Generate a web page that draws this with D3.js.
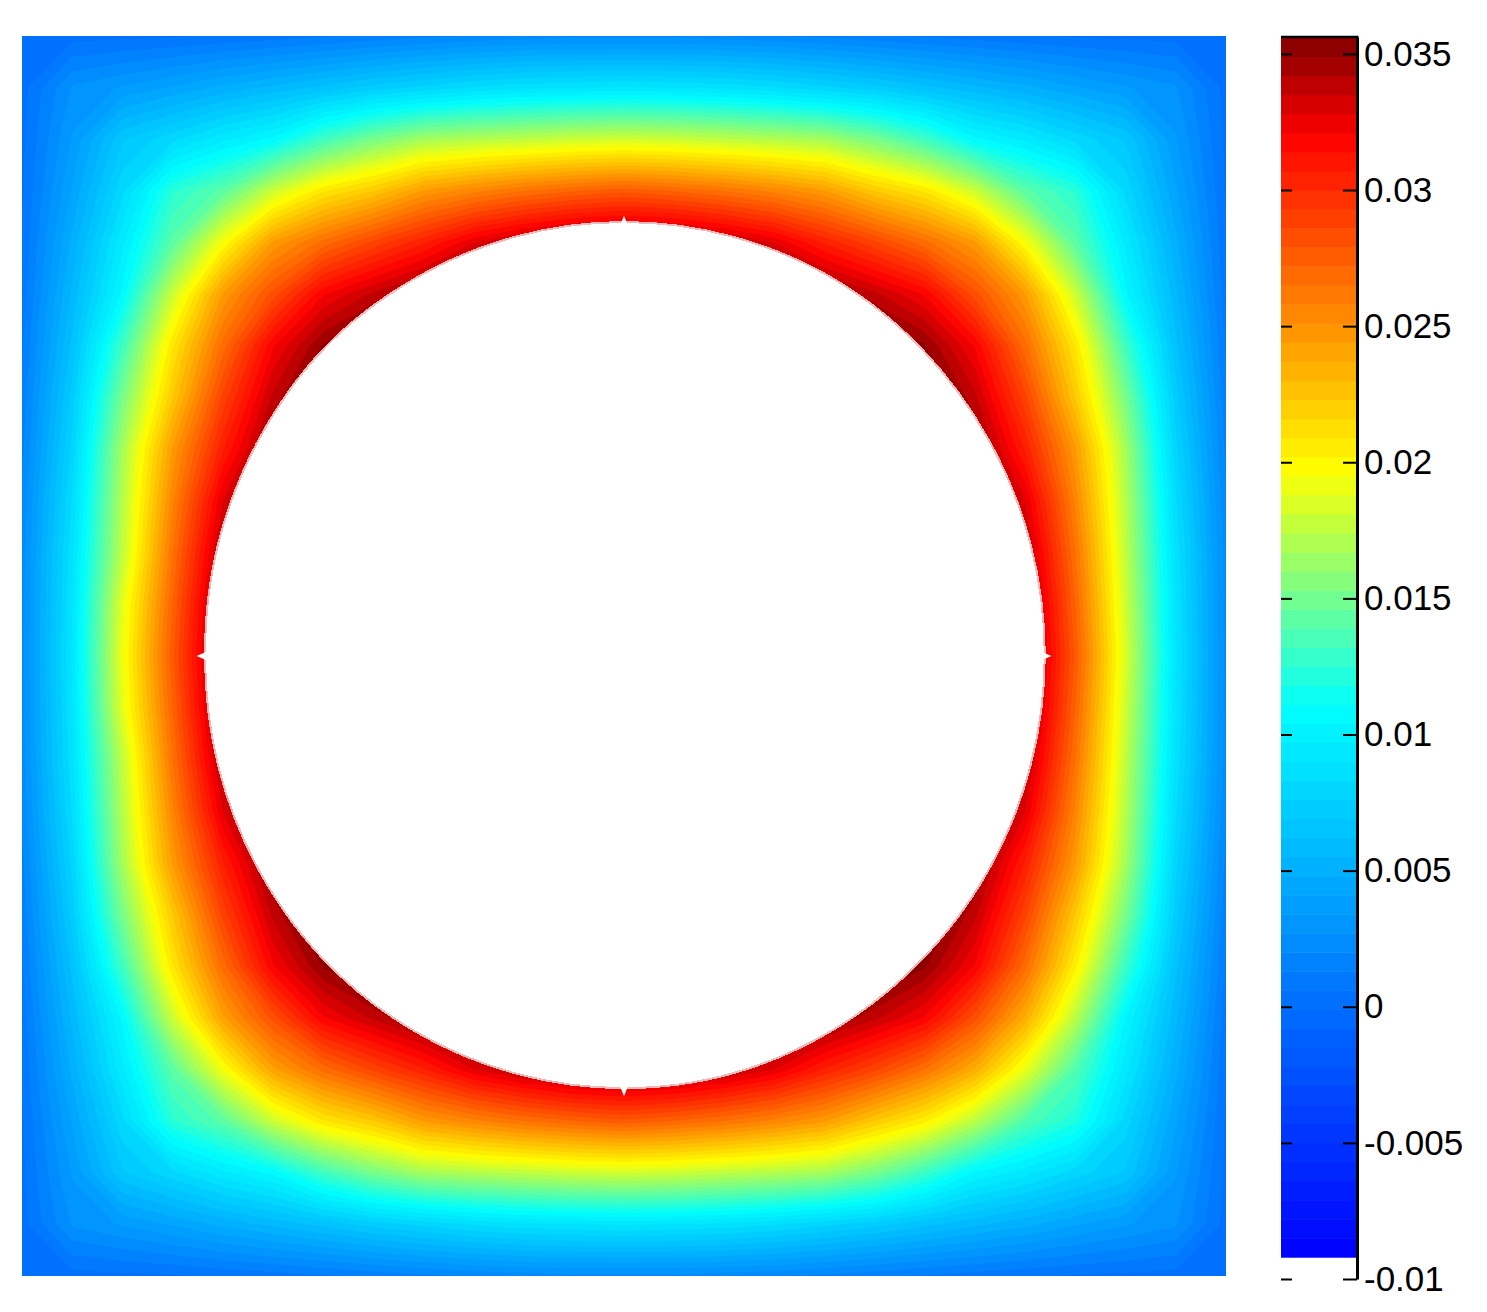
<!DOCTYPE html>
<meta charset="utf-8">
<style>
  body { margin: 0; background: #fff; }
  svg { display: block; }
  .bar-axis text { font-family: "Liberation Sans", Arial, sans-serif; font-size: 35px; fill: #000; }
  .bar-axis path, .bar-axis line { stroke: #000; }
</style>
<body>
<div id="chart"></div>
<script src="https://d3js.org/d3.v7.min.js"></script>
<script>
// field values, unit 0.001, rows top to bottom. inner cells sit under the hole
var fieldRows = [
  [.3,.3,.4,.5,.7,.9,1.2,1.5,1.8,2.1,2.3,2.4,2.4,2.4,2.3,2.1,1.8,1.5,1.2,.9,.7,.5,.4,.3,.3],
  [.3,2.8,3.5,4.2,5.0,5.7,6.4,7.2,7.8,8.4,8.8,9.0,9.1,9.0,8.8,8.4,7.8,7.2,6.4,5.7,5.0,4.2,3.5,2.8,.3],
  [.4,3.5,6.8,8.1,9.5,10.6,13.2,15.2,16.7,17.2,17.6,18.0,18.2,18.0,17.6,17.2,16.7,15.2,13.2,10.6,9.5,8.1,6.8,3.5,.4],
  [.5,4.2,8.1,12.4,14.2,18.0,20.8,22.3,24.5,25.6,26.5,27.2,27.7,27.2,26.5,25.6,24.5,22.3,20.8,18.0,14.2,12.4,8.1,4.2,.5],
  [.7,5.0,9.5,14.2,19.6,24.5,26.8,28.8,30.6,32.8,34.2,35.2,35.5,35.2,34.2,32.8,30.6,28.8,26.8,24.5,19.6,14.2,9.5,5.0,.7],
  [.9,5.7,10.6,18.0,24.5,28.2,32,33.7,35.2,36.5,37.5,38,38,38,37.5,36.5,35.2,33.7,32,28.2,24.5,18.0,10.6,5.7,.9],
  [1.2,6.4,13.2,20.8,26.8,32,35,36.5,37.5,38,38,38,38,38,38,38,37.5,36.5,35,32,26.8,20.8,13.2,6.4,1.2],
  [1.5,7.2,15.2,22.3,28.8,33.7,36.5,38,38,38,38,38,38,38,38,38,38,38,36.5,33.7,28.8,22.3,15.2,7.2,1.5],
  [1.8,7.8,16.7,24.5,30.6,35.2,37.5,38,38,38,38,38,38,38,38,38,38,38,37.5,35.2,30.6,24.5,16.7,7.8,1.8],
  [2.1,8.4,17.2,25.6,32.8,36.5,38,38,38,38,38,38,38,38,38,38,38,38,38,36.5,32.8,25.6,17.2,8.4,2.1],
  [2.3,8.8,17.6,26.5,34.2,37.5,38,38,38,38,38,38,38,38,38,38,38,38,38,37.5,34.2,26.5,17.6,8.8,2.3],
  [2.4,9.0,18.8,27.2,35.2,38,38,38,38,38,38,38,38,38,38,38,38,38,38,38,35.2,27.2,18.0,9.0,2.4],
  [2.4,9.1,19.2,27.7,35.5,38,38,38,38,38,38,38,38,38,38,38,38,38,38,38,35.5,27.7,18.4,9.1,2.4],
  [2.4,9.0,18.8,27.2,35.2,38,38,38,38,38,38,38,38,38,38,38,38,38,38,38,35.2,27.2,18.0,9.0,2.4],
  [2.3,8.8,17.6,26.5,34.2,37.5,38,38,38,38,38,38,38,38,38,38,38,38,38,37.5,34.2,26.5,17.6,8.8,2.3],
  [2.1,8.4,17.2,25.6,32.8,36.5,38,38,38,38,38,38,38,38,38,38,38,38,38,36.5,32.8,25.6,17.2,8.4,2.1],
  [1.8,7.8,16.7,24.5,30.6,35.2,37.5,38,38,38,38,38,38,38,38,38,38,38,37.5,35.2,30.6,24.5,16.7,7.8,1.8],
  [1.5,7.2,15.2,22.3,28.8,33.7,36.5,38,38,38,38,38,38,38,38,38,38,38,36.5,33.7,28.8,22.3,15.2,7.2,1.5],
  [1.2,6.4,13.2,20.8,26.8,32,35,36.5,37.5,38,38,38,38,38,38,38,37.5,36.5,35,32,26.8,20.4,13.0,6.4,1.2],
  [.9,5.7,10.6,18.0,24.2,28.2,32,33.7,35.2,36.5,37.5,38,38,38,37.5,36.5,35.2,33.7,32,28.2,23.6,17.4,10.4,5.7,.9],
  [.7,5.0,9.5,14.2,19.4,24.2,26.8,28.8,30.6,32.8,34.2,35.2,35.5,35.2,34.2,32.8,30.6,28.8,26.5,23.6,19.0,13.8,9.3,5.0,.7],
  [.5,4.2,8.1,12.4,14.2,18.0,20.8,22.3,24.5,25.6,26.5,27.2,27.7,27.2,26.5,25.6,24.5,22.3,20.4,17.4,13.8,12.0,8.0,4.2,.5],
  [.4,3.5,6.8,8.1,9.5,10.6,13.2,15.2,16.7,17.2,17.6,18.0,18.2,18.0,17.6,17.2,16.7,15.2,13.0,10.4,9.3,8.0,6.8,3.5,.4],
  [.3,2.8,3.5,4.2,5.0,5.7,6.4,7.2,7.8,8.4,8.8,9.0,9.1,9.0,8.8,8.4,7.8,7.2,6.4,5.7,5.0,4.2,3.5,2.8,.3],
  [.3,.3,.4,.5,.7,.9,1.2,1.5,1.8,2.1,2.3,2.4,2.4,2.4,2.3,2.1,1.8,1.5,1.2,.9,.7,.5,.4,.3,.3]
];

// hole edge, radius in plot units, every 15 degrees starting at the right side
var holeRadius = [.699,.699,.699,.700,.701,.700,.700,.700,.701,.703,.700,.698,.696,
                  .697,.698,.699,.698,.697,.697,.697,.696,.696,.697,.698];
var spikeAngles = [0, 90, 180, 270];

var tickValues = [-0.01,-0.005,0,0.005,0.01,0.015,0.02,0.025,0.03,0.035];
var tickLabels = ["-0.01","-0.005","0","0.005","0.01","0.015","0.02","0.025","0.03","0.035"];

// colorbar colours read at these values
var stopValues = [-0.0092,0.0015,0.011,0.0155,0.0197,0.032,0.0356];
var stopColors = ["#0000ff","#0080ff","#00ffff","#80ff80","#ffff00","#ff0000","#800000"];
var numLevels = 64;

var width = 1487, height = 1312,
    plot = {left: 22, right: 1226, top: 36, bottom: 1276},
    bar = {left: 1281, right: 1357, top: 37, bottom: 1279};

var svg = d3.select("#chart").append("svg")
    .attr("width", width)
    .attr("height", height);

var color = d3.scaleLinear().domain(stopValues).range(stopColors);

var levelStep = (stopValues[stopValues.length-1] - stopValues[0]) / numLevels,
    levels = d3.range(numLevels).map(function(i) { return stopValues[0] + i * levelStep; });

// grid points are at pixel centres in d3.contours, so 0.5 .. n-0.5
var n = fieldRows.length,
    gridX = d3.scaleLinear().domain([0.5, n-0.5]).range([plot.left, plot.right]),
    gridY = d3.scaleLinear().domain([0.5, n-0.5]).range([plot.top, plot.bottom]),
    holeX = d3.scaleLinear().domain([-1, 1]).range([plot.left, plot.right]),
    holeY = d3.scaleLinear().domain([1, -1]).range([plot.top, plot.bottom]);

svg.append("clipPath").attr("id", "plot-clip").append("rect")
    .attr("x", plot.left)
    .attr("y", plot.top)
    .attr("width", plot.right - plot.left)
    .attr("height", plot.bottom - plot.top);

var contours = d3.contours()
    .size([n, n])
    .thresholds(levels)(d3.merge(fieldRows).map(function(d) { return d / 1000; }));

var gridPath = d3.geoPath(d3.geoTransform({
  point: function(x, y) { this.stream.point(gridX(x), gridY(y)); }
}));

svg.append("g")
    .attr("clip-path", "url(#plot-clip)")
  .selectAll("path")
    .data(contours)
  .enter().append("path")
    .attr("d", gridPath)
    .attr("fill", function(d) { return color(d.value + levelStep / 2); });

// the hole
var holeLine = d3.line()
    .x(function(d) { return holeX(d.r * Math.cos(d.a)); })
    .y(function(d) { return holeY(d.r * Math.sin(d.a)); })
    .curve(d3.curveCardinalClosed);

var holePoints = holeRadius.map(function(r, i) {
  return {a: i * 15 * Math.PI / 180, r: r};
});

svg.append("path")
    .attr("d", holeLine(holePoints))
    .attr("fill", "#fff")
    .attr("stroke", "#eeb9b9")
    .attr("stroke-width", 2)
    .attr("shape-rendering", "crispEdges");

svg.selectAll("path.spike")
    .data(spikeAngles)
  .enter().append("path")
    .attr("class", "spike")
    .attr("fill", "#fff")
    .attr("d", function(d) {
      var a = d * Math.PI / 180;
      return d3.line().x(function(p) { return holeX(p[0] * Math.cos(p[1])); })
                      .y(function(p) { return holeY(p[0] * Math.sin(p[1])); })
        ([[.69, a-.012], [.71, a], [.69, a+.012]]);
    });

// colorbar
var barY = d3.scaleLinear().domain([-0.01, 0.03562]).range([bar.bottom, bar.top]);

svg.append("g")
  .selectAll("rect")
    .data(levels)
  .enter().append("rect")
    .attr("x", bar.left)
    .attr("width", bar.right - bar.left)
    .attr("y", function(d) { return barY(d + levelStep); })
    .attr("height", function(d) { return barY(d) - barY(d + levelStep) + .5; })
    .attr("fill", function(d) { return color(d + levelStep / 2); });

var rightAxis = svg.append("g")
    .attr("class", "bar-axis")
    .attr("transform", "translate(" + bar.right + ",0)")
    .call(d3.axisRight(barY)
      .tickValues(tickValues)
      .tickFormat(function(d, i) { return tickLabels[i]; })
      .tickSizeInner(-14)
      .tickSizeOuter(0)
      .tickPadding(21));

rightAxis.select(".domain").attr("stroke-width", 3);
rightAxis.selectAll(".tick line").attr("stroke-width", 2);
rightAxis.selectAll(".tick text").attr("x", 7).attr("font-family", null);

svg.append("g")
    .attr("class", "bar-axis")
    .attr("transform", "translate(" + bar.left + ",0)")
    .call(d3.axisLeft(barY).tickValues(tickValues).tickFormat("").tickSizeInner(-11).tickSizeOuter(0))
    .call(function(g) { g.select(".domain").remove(); })
    .selectAll(".tick line").attr("stroke-width", 2);

svg.append("line")
    .attr("x1", bar.left).attr("x2", bar.right + 1.5)
    .attr("y1", bar.top).attr("y2", bar.top)
    .attr("stroke", "#000")
    .attr("stroke-width", 2.5);
</script>
</body>
